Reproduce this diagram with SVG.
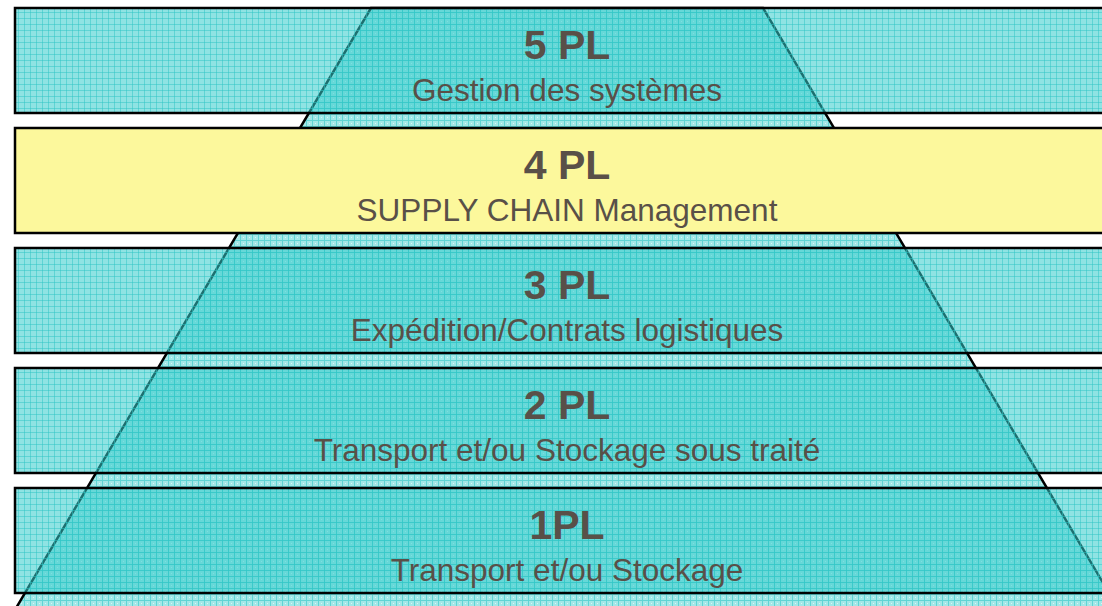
<svg xmlns="http://www.w3.org/2000/svg" width="1102" height="606" viewBox="0 0 1102 606">
  <defs>
    <pattern id="gridTrap" width="6" height="6" patternUnits="userSpaceOnUse">
      <rect width="6" height="6" fill="#a3e7e7"/>
      <rect width="1" height="6" fill="#5fd4d4"/>
      <rect width="6" height="1" fill="#5fd4d4"/>
      <rect x="3" y="3" width="1" height="1" fill="#d8f6f6"/>
    </pattern>
    <pattern id="gridBand" width="6" height="6" patternUnits="userSpaceOnUse">
      <rect width="6" height="6" fill="#33cccc" fill-opacity="0.55"/>
      <rect width="1" height="6" fill="#2fc6c6" fill-opacity="0.5"/>
      <rect width="6" height="1" fill="#2fc6c6" fill-opacity="0.5"/>
    </pattern>
  </defs>
  <style>
    .band { fill: url(#gridBand); stroke: #000; stroke-width: 2.5; }
    .yellow { fill: #fcf89c; stroke: #000; stroke-width: 2.5; }
    .title { font-family: "Liberation Sans", Arial, sans-serif; font-weight: bold; font-size: 41px; fill: #595048; text-anchor: middle; }
    .sub { font-family: "Liberation Sans", Arial, sans-serif; font-size: 31.5px; fill: #595048; text-anchor: middle; }
  </style>
  <rect width="1102" height="606" fill="#ffffff"/>
  <g id="pyramid">
    <polygon points="371,8 763,8 1125,620 9,620" fill="url(#gridTrap)" stroke="#000" stroke-width="2.5"/>
  </g>
  <g id="level5">
    <rect class="band" x="15" y="8" width="1100" height="105"/>
    <text class="title" x="567" y="59">5 PL</text>
    <text class="sub" x="567" y="101">Gestion des systèmes</text>
  </g>
  <g id="level4">
    <rect class="yellow" x="15" y="128" width="1100" height="105"/>
    <text class="title" x="567" y="179">4 PL</text>
    <text class="sub" x="567" y="221">SUPPLY CHAIN Management</text>
  </g>
  <g id="level3">
    <rect class="band" x="15" y="248" width="1100" height="105"/>
    <text class="title" x="567" y="299">3 PL</text>
    <text class="sub" x="567" y="341">Expédition/Contrats logistiques</text>
  </g>
  <g id="level2">
    <rect class="band" x="15" y="368" width="1100" height="105"/>
    <text class="title" x="567" y="419">2 PL</text>
    <text class="sub" x="567" y="461">Transport et/ou Stockage sous traité</text>
  </g>
  <g id="level1">
    <rect class="band" x="15" y="488" width="1100" height="105"/>
    <text class="title" x="567" y="539">1PL</text>
    <text class="sub" x="567" y="581">Transport et/ou Stockage</text>
  </g>
</svg>
